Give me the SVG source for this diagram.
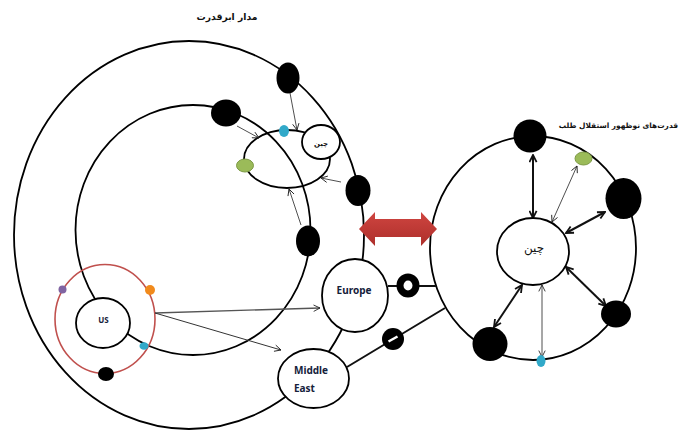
<svg xmlns="http://www.w3.org/2000/svg" width="679" height="430" viewBox="0 0 679 430">
<style>
.orb{fill:none;stroke:#000;stroke-width:1.8}
.n{fill:#fff;stroke:#000;stroke-width:1.8}
.b{fill:#000}
.thin{fill:none;stroke:#222;stroke-width:.8}
.thick{fill:none;stroke:#111;stroke-width:2}
.fa{font-family:"DejaVu Sans",sans-serif;font-weight:bold;fill:#111}
.la{font-family:"Noto Sans","Liberation Sans",sans-serif;font-weight:bold;fill:#14213a}
</style>
<defs>
<marker id="o" viewBox="0 0 10 10" refX="9" refY="5" markerWidth="8" markerHeight="8" markerUnits="userSpaceOnUse" orient="auto-start-reverse"><path d="M1 1L9 5L1 9" fill="none" stroke="#222" stroke-width="1.1"/></marker>
<marker id="t" viewBox="0 0 10 10" refX="9" refY="5" markerWidth="9" markerHeight="9" markerUnits="userSpaceOnUse" orient="auto-start-reverse"><path d="M1 1L9 5L1 9" fill="none" stroke="#111" stroke-width="2"/></marker>
<linearGradient id="rg" x1="0" y1="0" x2="0" y2="1"><stop offset="0" stop-color="#cf4540"/><stop offset="1" stop-color="#ad2f2b"/></linearGradient>
</defs>
<g id="connectors">
<ellipse class="orb" cx="189" cy="235" rx="175" ry="194"/>
<ellipse class="orb" cx="193" cy="230" rx="117.5" ry="125"/>
<ellipse class="orb" cx="287" cy="159" rx="43" ry="29"/>
<ellipse cx="105" cy="319" rx="50" ry="54.5" fill="none" stroke="#c0504d" stroke-width="1.6"/>
<ellipse class="orb" cx="533" cy="248" rx="103" ry="112"/>
<path class="thick" d="M388 286H436M347 367L445 308"/>
<path class="thin" marker-end="url(#o)" d="M290 93L297 130"/>
<path class="thin" marker-end="url(#o)" d="M237 126L259 138"/>
<path class="thin" marker-end="url(#o)" d="M341 182L321 178"/>
<path class="thin" marker-end="url(#o)" d="M301 225L289 189"/>
<path fill="none" stroke="#555" stroke-width="1.3" marker-end="url(#o)" d="M155 313L320 308"/>
<path fill="none" stroke="#333" stroke-width="1" marker-end="url(#o)" d="M155 313L281 350"/>
<g marker-start="url(#t)" marker-end="url(#t)">
<path class="thick" d="M533 155V218"/>
<path class="thick" d="M605 212L566 233"/>
<path class="thick" d="M566 267L606 306"/>
<path class="thick" d="M522 285L494 327"/>
</g>
<g marker-start="url(#o)" marker-end="url(#o)">
<path class="thin" d="M577 166L552 222"/>
<path class="thin" d="M542 285V357"/>
</g>
</g>
<g id="double-arrow"><path fill="url(#rg)" d="M359 229L375 212V219H421V212L437 229L421 246V237H375V246Z"/></g>
<g id="n-top1"><ellipse class="b" cx="288" cy="78" rx="11.5" ry="15.5"/></g>
<g id="n-top2"><ellipse class="b" cx="226" cy="113" rx="15" ry="13.5"/></g>
<g id="n-right1"><ellipse class="b" cx="358" cy="190.5" rx="12.5" ry="15.5"/></g>
<g id="n-right2"><ellipse class="b" cx="308" cy="241" rx="12" ry="15.5"/></g>
<g id="n-blue1"><ellipse cx="284" cy="131" rx="5" ry="6" fill="#31a9c9"/></g>
<g id="n-green1"><ellipse cx="245" cy="165.5" rx="8.5" ry="6.5" fill="#9bbb59" stroke="#7d9a45"/></g>
<g id="n-china1"><ellipse class="n" cx="321" cy="142" rx="19" ry="17"/><text class="fa" x="321" y="146" text-anchor="middle" font-size="7" direction="rtl">چین</text></g>
<g id="n-us"><ellipse class="n" cx="103" cy="323" rx="27" ry="25"/><text class="la" x="103.500" y="323" text-anchor="middle" font-size="8">US</text></g>
<g id="n-purple"><circle cx="62.500" cy="289.500" r="4" fill="#8064a2"/></g>
<g id="n-orange"><circle cx="150" cy="290" r="5" fill="#f18a1c"/></g>
<g id="n-blue2"><ellipse cx="144" cy="346" rx="4.500" ry="3.800" fill="#31a9c9"/></g>
<g id="n-black-us"><ellipse class="b" cx="106" cy="374" rx="8" ry="7"/></g>
<g id="n-europe"><ellipse class="n" cx="355" cy="295.500" rx="33" ry="36.500"/><text class="la" x="354" y="294" text-anchor="middle" font-size="10">Europe</text></g>
<g id="n-me"><ellipse class="n" cx="313.500" cy="378.500" rx="35.500" ry="29.500"/><text class="la" x="294" y="374" font-size="10">Middle</text><text class="la" x="294" y="392" font-size="10">East</text></g>
<g id="ring1"><ellipse cx="408" cy="285.500" rx="8" ry="8.500" fill="#fff" stroke="#000" stroke-width="7"/></g>
<g id="ring2"><ellipse cx="393" cy="339" rx="11" ry="11" fill="#000"/><path d="M388.500 341.500L397.500 336.500" stroke="#fff" stroke-width="2.500"/></g>
<g id="n-china2"><ellipse class="n" cx="533" cy="251.500" rx="36" ry="33.500"/><text x="534" y="252" text-anchor="middle" font-size="12" direction="rtl" font-family="DejaVu Sans,sans-serif" fill="#111">چین</text></g>
<g id="n-r1"><circle class="b" cx="530" cy="136" r="16.500"/></g>
<g id="n-r2"><ellipse class="b" cx="623.500" cy="198.500" rx="18" ry="20.500"/></g>
<g id="n-r3"><ellipse class="b" cx="616" cy="314" rx="15" ry="13.500"/></g>
<g id="n-r4"><ellipse class="b" cx="490" cy="344" rx="17.500" ry="17"/></g>
<g id="n-blue3"><ellipse cx="541" cy="361" rx="4.500" ry="6" fill="#31a9c9"/></g>
<g id="n-green2"><ellipse cx="583.500" cy="158.500" rx="8.500" ry="6.500" fill="#9bbb59" stroke="#7d9a45"/></g>
<text class="fa" x="227" y="20" text-anchor="middle" font-size="9.200" direction="rtl">مدار ابرقدرت</text>
<text class="fa" x="678" y="128" text-anchor="start" font-size="7.400" direction="rtl">قدرت‌های نوظهور استقلال طلب</text>
</svg>
